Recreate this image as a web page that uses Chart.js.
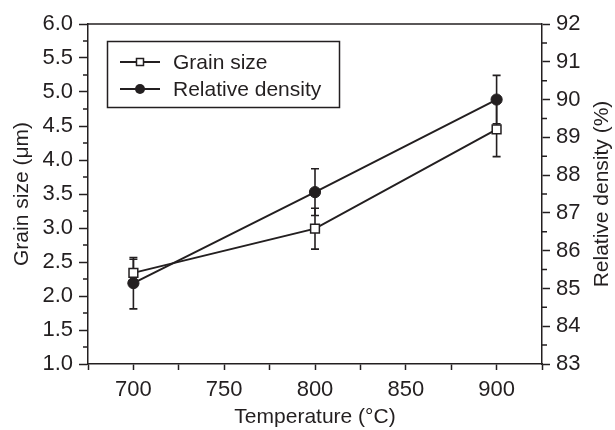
<!DOCTYPE html>
<html>
<head>
<meta charset="utf-8">
<script src="https://cdn.jsdelivr.net/npm/chart.js@4"></script>
<style>
  html, body { margin: 0; padding: 0; background: #fff; }
  #wrap { width: 615px; height: 430px; }
</style>
</head>
<body>
<div id="wrap"><canvas id="grainChart" width="615" height="430"></canvas></div>
<script>
// Data
const temperatures = [700, 800, 900];
const grainSize = [2.34, 2.99, 4.45];
const grainSizeErr = [0.2, 0.3, 0.4];
const relativeDensity = [85.14, 87.55, 90.0];
const relativeDensityErr = [0.68, 0.62, 0.64];

const xTickLabels = [700, 750, 800, 850, 900];

const ink = '#231f20';
const fontFamily = '"Liberation Sans", Arial, Helvetica, sans-serif';
const tickFont = { family: fontFamily, size: 22 };
const titleFont = { family: fontFamily, size: 21 };

function points(ys) {
  return temperatures.map((t, i) => ({ x: t, y: ys[i] }));
}

// Error bars, drawn under the markers
const errorBars = {
  id: 'errorBars',
  beforeDatasetsDraw(chart) {
    const ctx = chart.ctx;
    const x = chart.scales.x;
    const sets = [
      { scale: chart.scales.y, vals: grainSize, errs: grainSizeErr },
      { scale: chart.scales.y2, vals: relativeDensity, errs: relativeDensityErr }
    ];
    ctx.save();
    ctx.strokeStyle = ink;
    ctx.lineWidth = 1.6;
    sets.forEach(s => {
      temperatures.forEach((t, i) => {
        const px = x.getPixelForValue(t);
        const top = s.scale.getPixelForValue(s.vals[i] + s.errs[i]);
        const bot = s.scale.getPixelForValue(s.vals[i] - s.errs[i]);
        ctx.beginPath();
        ctx.moveTo(px, top); ctx.lineTo(px, bot);
        ctx.moveTo(px - 4, top); ctx.lineTo(px + 4, top);
        ctx.moveTo(px - 4, bot); ctx.lineTo(px + 4, bot);
        ctx.stroke();
      });
    });
    ctx.restore();
  }
};

// Frame top edge, short minor ticks, right title and boxed legend
const decorations = {
  id: 'decorations',
  afterDraw(chart) {
    const ctx = chart.ctx;
    const a = chart.chartArea;
    ctx.save();
    ctx.strokeStyle = ink;
    ctx.lineWidth = 1.5;
    ctx.beginPath();
    ctx.moveTo(a.left, a.top); ctx.lineTo(a.right, a.top);
    ctx.stroke();

    // minor ticks
    const y = chart.scales.y, y2 = chart.scales.y2;
    ctx.beginPath();
    y.ticks.forEach(t => {
      if (Math.abs(t.value * 2 - Math.round(t.value * 2)) > 1e-6) {
        const py = y.getPixelForValue(t.value);
        ctx.moveTo(a.left, py); ctx.lineTo(a.left - 5, py);
      }
    });
    y2.ticks.forEach(t => {
      if (Math.abs(t.value - Math.round(t.value)) > 1e-6) {
        const py = y2.getPixelForValue(t.value);
        ctx.moveTo(a.right, py); ctx.lineTo(a.right + 5, py);
      }
    });
    ctx.stroke();

    // right axis title, reading bottom to top
    ctx.fillStyle = ink;
    ctx.font = titleFont.size + 'px ' + fontFamily;
    ctx.textAlign = 'center';
    ctx.textBaseline = 'middle';
    ctx.translate(602, 194);
    ctx.rotate(-Math.PI / 2);
    ctx.fillText('Relative density (%)', 0, 0);
    ctx.setTransform(1, 0, 0, 1, 0, 0);

    // legend
    ctx.lineWidth = 1.5;
    ctx.strokeRect(107.5, 41.5, 232, 66);
    const rows = [62, 89];
    chart.data.datasets.forEach((ds, i) => {
      const ry = rows[i];
      ctx.lineWidth = 2;
      ctx.strokeStyle = ink;
      ctx.beginPath();
      ctx.moveTo(120, ry); ctx.lineTo(160, ry);
      ctx.stroke();
      ctx.lineWidth = 1.5;
      if (ds.pointStyle === 'rect') {
        ctx.fillStyle = '#fff';
        ctx.fillRect(136.5, ry - 3.5, 7, 7);
        ctx.strokeRect(136.5, ry - 3.5, 7, 7);
      } else {
        ctx.fillStyle = ink;
        ctx.beginPath();
        ctx.arc(140, ry, 5, 0, Math.PI * 2);
        ctx.fill();
      }
      ctx.fillStyle = ink;
      ctx.textAlign = 'left';
      ctx.textBaseline = 'middle';
      ctx.fillText(ds.label, 173, ry + 1);
    });
    ctx.restore();
  }
};

new Chart(document.getElementById('grainChart'), {
  type: 'line',
  data: {
    datasets: [{
      label: 'Grain size',
      data: points(grainSize),
      yAxisID: 'y',
      borderColor: ink,
      borderWidth: 2,
      pointStyle: 'rect',
      pointRadius: 6.2,
      pointBorderWidth: 1.5,
      pointBackgroundColor: '#fff',
      pointBorderColor: ink,
      tension: 0
    }, {
      label: 'Relative density',
      data: points(relativeDensity),
      yAxisID: 'y2',
      borderColor: ink,
      borderWidth: 2,
      pointStyle: 'circle',
      pointRadius: 5.6,
      pointBorderWidth: 1,
      pointBackgroundColor: ink,
      pointBorderColor: ink,
      tension: 0
    }]
  },
  options: {
    responsive: false,
    animation: false,
    layout: { padding: { top: 24, left: 0, right: 0, bottom: 0 } },
    plugins: {
      legend: { display: false },
      tooltip: { enabled: false }
    },
    scales: {
      x: {
        type: 'linear',
        min: 675,
        max: 925,
        afterFit: s => { s.height = 66; },
        border: { color: ink, width: 1.5 },
        grid: { drawOnChartArea: false, tickLength: 6, tickColor: ink, tickWidth: 1.5 },
        ticks: {
          stepSize: 25,
          autoSkip: false,
          maxRotation: 0,
          padding: 7,
          color: ink,
          font: tickFont,
          callback: v => xTickLabels.includes(v) ? String(v) : ''
        },
        title: {
          display: true,
          text: 'Temperature (°C)',
          color: ink,
          font: titleFont,
          padding: { top: 0, bottom: 0 }
        }
      },
      y: {
        position: 'left',
        min: 1,
        max: 6,
        afterFit: s => { s.width = 88; },
        border: { color: ink, width: 1.5 },
        grid: {
          drawOnChartArea: false,
          tickLength: 9,
          tickWidth: 1.5,
          tickColor: c => Math.abs(c.tick.value * 2 - Math.round(c.tick.value * 2)) > 1e-6 ? 'rgba(0,0,0,0)' : ink
        },
        ticks: {
          stepSize: 0.25,
          autoSkip: false,
          padding: 6,
          color: ink,
          font: tickFont,
          callback: v => Math.abs(v * 2 - Math.round(v * 2)) < 1e-6 ? v.toFixed(1) : ''
        },
        title: {
          display: true,
          text: 'Grain size (μm)',
          color: ink,
          font: titleFont,
          padding: { top: 10, bottom: 0 }
        }
      },
      y2: {
        position: 'right',
        min: 83,
        max: 92,
        afterFit: s => { s.width = 73; },
        border: { color: ink, width: 1.5 },
        grid: {
          drawOnChartArea: false,
          tickLength: 8,
          tickWidth: 1.5,
          tickColor: c => Math.abs(c.tick.value - Math.round(c.tick.value)) > 1e-6 ? 'rgba(0,0,0,0)' : ink
        },
        ticks: {
          stepSize: 0.5,
          autoSkip: false,
          padding: 6,
          color: ink,
          font: tickFont,
          callback: v => Number.isInteger(v) ? String(v) : ''
        }
      }
    }
  },
  plugins: [errorBars, decorations]
});
</script>
</body>
</html>
